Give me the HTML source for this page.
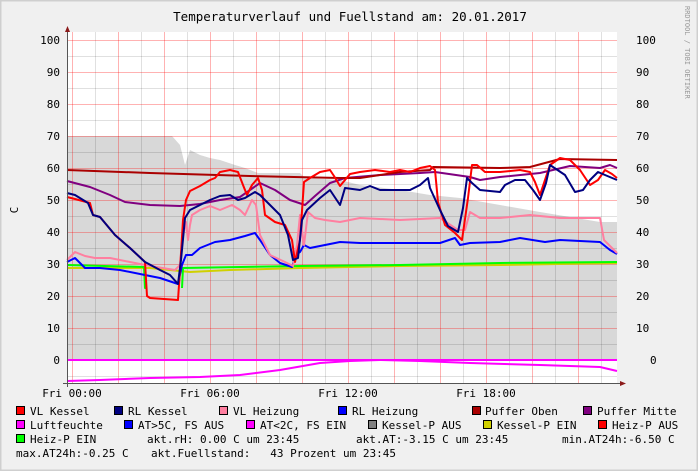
<!DOCTYPE html>
<html><head><meta charset="utf-8"><style>
html,body{margin:0;padding:0;background:#f0f0f0;}
svg{display:block;}
text{font-family:"DejaVu Sans Mono","Liberation Mono",monospace;font-size:11px;fill:#000;}
</style></head><body>
<svg width="698" height="471" viewBox="0 0 698 471" xmlns="http://www.w3.org/2000/svg">
<rect x="0" y="0" width="698" height="471" fill="#f0f0f0"/>
<rect x="0.5" y="0.5" width="697" height="470" fill="none" stroke="#cfcfcf" stroke-width="2"/>
<text x="350" y="21" text-anchor="middle" font-size="12.5" style="font-size:12.5px">Temperaturverlauf und Fuellstand am: 20.01.2017</text>
<text transform="translate(685,6) rotate(90)" style="font-size:7px;fill:#999">RRDTOOL / TOBI OETIKER</text>
<text transform="translate(18,210) rotate(-90)" text-anchor="middle">C</text>
<rect x="67" y="32" width="550" height="351" fill="#fff"/>
<polygon fill="#d8d8d8" points="67,360 67,136 172,136 180,145 185,165 190,150 200,155 210,158 220,160 235,165 245,168 258,173 300,173 305,178 340,180 360,185 400,190 430,195 460,198 500,205 540,212 600,222 617,222 617,360"/>
<g stroke="#000" stroke-opacity="0.12" stroke-width="1">
<path d="M95.5,32V383M141.5,32V383M187.5,32V383M233.5,32V383M279.5,32V383M325.5,32V383M371.5,32V383M417.5,32V383M463.5,32V383M509.5,32V383M555.5,32V383M601.5,32V383"/>
<path d="M67,56.5H617M67,88.5H617M67,120.5H617M67,152.5H617M67,184.5H617M67,216.5H617M67,248.5H617M67,280.5H617M67,312.5H617M67,344.5H617M67,376.5H617"/>
</g>
<g stroke="#ff0000" stroke-opacity="0.3" stroke-width="1">
<path d="M72.5,32V383M118.5,32V383M164.5,32V383M210.5,32V383M256.5,32V383M302.5,32V383M348.5,32V383M394.5,32V383M440.5,32V383M486.5,32V383M532.5,32V383M578.5,32V383"/>
<path d="M67,40.5H617M67,72.5H617M67,104.5H617M67,136.5H617M67,168.5H617M67,200.5H617M67,232.5H617M67,264.5H617M67,296.5H617M67,328.5H617"/>
</g>
<g fill="none" stroke-width="2" stroke-linejoin="round">
<polyline stroke="#d0d000" points="67,268 150,268 190,272 230,270 300,268 400,266 500,265 617,263"/>
<polyline stroke="#00ff00" points="67,265 144,267 145,288 147,288"/>
<polyline stroke="#00ff00" points="182,288 183,268 300,266 400,265 500,263 617,262"/>
<polyline stroke="#0000ff" points="67,262 75,258 85,268 100,268 120,270 145,275 160,278 178,284 182,265 186,255 192,255 200,248 215,242 230,240 245,236 255,233 260,240 270,255 280,263 292,267 296,255 300,252 304,245 310,248 320,246 340,242 360,243 400,243 440,243 455,238 460,245 470,243 500,242 520,238 545,242 560,240 600,242 610,250 617,254"/>
<polyline stroke="#ff7fa0" points="67,260 75,252 85,256 95,258 110,258 130,262 150,266 175,270 180,265 183,236 186,222 188,240 190,225 192,215 200,210 210,206 220,210 232,205 240,210 245,215 252,200 256,205 260,235 270,255 285,262 293,266 297,245 300,215 304,245 308,212 315,218 325,220 340,222 360,218 400,220 440,218 458,230 465,230 470,212 480,218 500,218 530,215 560,218 600,218 604,240 617,253"/>
<polyline stroke="#800080" points="67,181 90,187 110,195 125,202 150,205 180,206 200,204 220,200 240,197 260,183 275,190 290,200 305,205 315,196 330,183 345,178 380,175 420,173 435,172 470,177 480,180 500,177 540,173 570,166 600,168 610,165 617,168"/>
<polyline stroke="#aa0000" points="67,170 150,173 250,176 340,178 360,178 380,175 400,172 430,170 433,167 500,168 530,167 560,159 617,160"/>
<polyline stroke="#ff0000" points="67,197 75,199 90,203 93,215 100,217 115,235 130,248 145,262 147,296 150,298 178,300 180,270 183,220 186,200 190,191 200,186 210,180 215,178 220,172 230,170 238,172 243,185 247,195 252,185 258,178 262,190 265,215 275,222 285,225 292,240 295,262 300,240 304,182 310,178 320,172 330,170 334,176 340,186 350,174 360,172 375,170 390,172 400,170 410,172 420,168 430,166 435,170 438,202 445,225 455,233 462,240 468,198 472,165 477,165 485,172 500,172 520,170 530,172 535,182 540,195 545,180 550,165 560,158 570,160 580,170 590,185 598,180 605,170 612,174 617,178"/>
<polyline stroke="#000080" points="67,193 75,195 88,203 93,215 100,217 115,235 130,248 145,262 160,270 170,275 178,284 181,260 185,218 190,210 200,205 210,200 220,196 230,195 238,200 245,198 255,192 260,195 270,205 280,215 288,235 293,260 298,258 302,220 307,210 320,198 330,190 340,205 345,188 360,190 370,186 380,190 395,190 410,190 420,185 428,178 430,188 440,210 448,226 458,232 463,208 467,178 472,183 480,190 500,192 505,185 515,180 525,180 533,190 540,200 546,183 550,165 565,175 575,192 583,190 590,180 598,172 605,175 617,180"/>
<polyline stroke="#ff00ff" points="67,360 617,360"/>
<polyline stroke="#ff00ff" points="67,381 100,380 150,378 200,377 240,375 280,370 320,363 350,361 380,360 420,361 470,363 540,365 600,367 617,371"/>
</g>
<g stroke="#555" stroke-width="1"><path d="M67.5,30V387M63,383.5H622"/></g>
<path d="M67.5,26L65,32H70Z M626,383.5L620,381V386Z" fill="#8b1a1a"/>
<g text-anchor="end">
<text x="60" y="44">100</text><text x="60" y="76">90</text><text x="60" y="108">80</text><text x="60" y="140">70</text><text x="60" y="172">60</text><text x="60" y="204">50</text><text x="60" y="236">40</text><text x="60" y="268">30</text><text x="60" y="300">20</text><text x="60" y="332">10</text><text x="60" y="364">0</text>
</g>
<g>
<text x="636" y="44">100</text><text x="636" y="76">90</text><text x="636" y="108">80</text><text x="636" y="140">70</text><text x="636" y="172">60</text><text x="636" y="204">50</text><text x="636" y="236">40</text><text x="636" y="268">30</text><text x="636" y="300">20</text><text x="636" y="332">10</text><text x="650" y="364">0</text>
</g>
<g text-anchor="middle">
<text x="72" y="397">Fri 00:00</text><text x="210" y="397">Fri 06:00</text><text x="348" y="397">Fri 12:00</text><text x="486" y="397">Fri 18:00</text>
</g>
<g stroke="#000" stroke-width="1">
<rect x="16.5" y="406.5" width="8" height="8" fill="#ff0000"/>
<rect x="114.5" y="406.5" width="8" height="8" fill="#000080"/>
<rect x="219.5" y="406.5" width="8" height="8" fill="#ff7fa0"/>
<rect x="338.5" y="406.5" width="8" height="8" fill="#0000ff"/>
<rect x="472.5" y="406.5" width="8" height="8" fill="#aa0000"/>
<rect x="583.5" y="406.5" width="8" height="8" fill="#800080"/>
<rect x="16.5" y="420.5" width="8" height="8" fill="#ff00ff"/>
<rect x="124.5" y="420.5" width="8" height="8" fill="#0000ff"/>
<rect x="246.5" y="420.5" width="8" height="8" fill="#ff00ff"/>
<rect x="368.5" y="420.5" width="8" height="8" fill="#808080"/>
<rect x="483.5" y="420.5" width="8" height="8" fill="#d0d000"/>
<rect x="598.5" y="420.5" width="8" height="8" fill="#ff0000"/>
<rect x="16.5" y="434.5" width="8" height="8" fill="#00ff00"/>
</g>
<text x="30" y="415">VL Kessel</text><text x="128" y="415">RL Kessel</text><text x="233" y="415">VL Heizung</text><text x="352" y="415">RL Heizung</text><text x="485" y="415">Puffer Oben</text><text x="597" y="415">Puffer Mitte</text>
<text x="30" y="429">Luftfeuchte</text><text x="138" y="429">AT&gt;5C, FS AUS</text><text x="260" y="429">AT&lt;2C, FS EIN</text><text x="382" y="429">Kessel-P AUS</text><text x="497" y="429">Kessel-P EIN</text><text x="612" y="429">Heiz-P AUS</text>
<text x="30" y="443">Heiz-P EIN</text><text x="147" y="443">akt.rH: 0.00 C um 23:45</text><text x="356" y="443">akt.AT:-3.15 C um 23:45</text><text x="562" y="443">min.AT24h:-6.50 C</text>
<text x="16" y="457">max.AT24h:-0.25 C</text><text x="151" y="457" xml:space="preserve">akt.Fuellstand:   43 Prozent um 23:45</text>
</svg>
</body></html>
